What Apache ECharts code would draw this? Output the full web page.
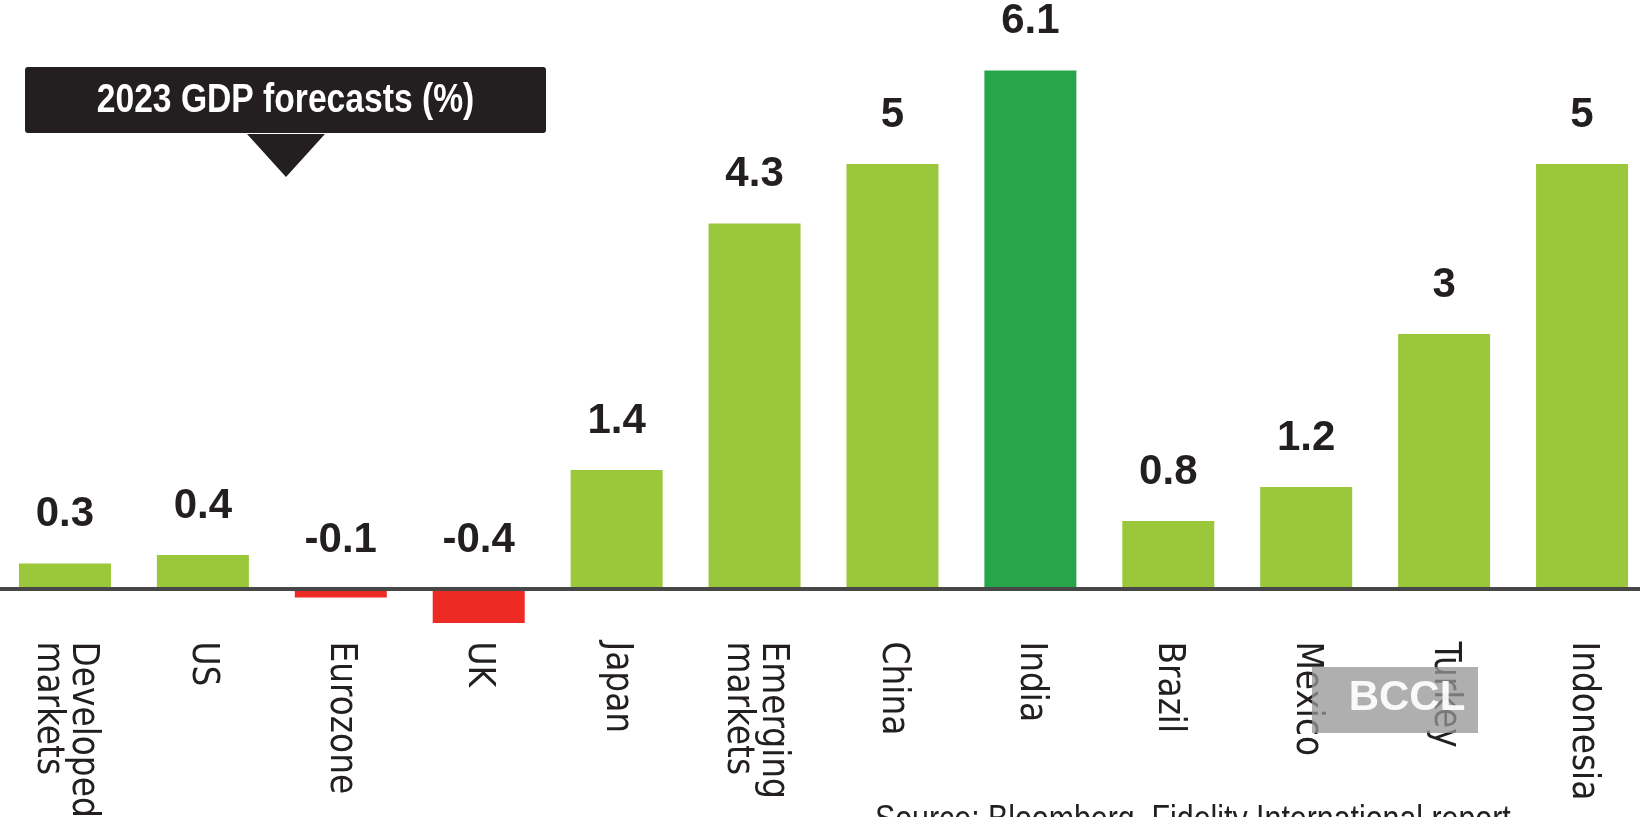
<!DOCTYPE html>
<html>
<head>
  <meta charset="utf-8">
  <title>2023 GDP forecasts</title>
  <script src="https://cdn.jsdelivr.net/npm/echarts/dist/echarts.min.js"></script>
  <style>
    html, body { margin: 0; padding: 0; background: #fff; }
    #main { width: 1640px; height: 817px; }
  </style>
</head>
<body>
<div id="main"></div>

<script>
  // 2023 GDP forecasts (%), Source: Bloomberg, Fidelity International report
  const categories = [
    'Developed\nmarkets', 'US', 'Eurozone', 'UK', 'Japan', 'Emerging\nmarkets',
    'China', 'India', 'Brazil', 'Mexico', 'Turkey', 'Indonesia'
  ];
  const forecasts = [0.3, 0.4, -0.1, -0.4, 1.4, 4.3, 5, 6.1, 0.8, 1.2, 3, 5];
  const highlighted = ['India'];

  const GREEN = '#9bc83b';
  const DARK_GREEN = '#26a54a';
  const RED = '#ee2a24';
  const INK = '#231f20';
  const SANS = '"Liberation Sans", Arial, sans-serif';
  const CONDENSED = '"DejaVu Sans Condensed", "Liberation Sans", sans-serif';

  const barData = forecasts.map(function (v, i) {
    let color = GREEN;
    if (v < 0) color = RED;
    else if (highlighted.indexOf(categories[i]) >= 0) color = DARK_GREEN;
    return { value: v, itemStyle: { color: color } };
  });

  var myChart = echarts.init(document.getElementById('main'));

  var option = {
    animation: false,
    grid: {
      left: -4,
      right: -11,
      top: 36.5,
      bottom: 185.5,
      outerBoundsMode: 'none'
    },
    xAxis: {
      type: 'category',
      data: categories,
      axisTick: { show: false },
      axisLine: {
        show: true,
        onZero: true,
        lineStyle: { color: '#474747', width: 4 }
      },
      axisLabel: {
        rotate: -90,
        margin: 10,
        interval: 0,
        color: INK,
        fontFamily: CONDENSED,
        fontSize: 36.5,
        lineHeight: 35
      },
      z: 3
    },
    yAxis: {
      type: 'value',
      min: -0.5,
      max: 6.5,
      show: false,
      splitLine: { show: false }
    },
    series: [
      {
        type: 'bar',
        data: barData,
        barWidth: 92,
        label: {
          show: true,
          position: 'top',
          distance: 28,
          color: INK,
          fontFamily: SANS,
          fontWeight: 'bold',
          fontSize: 42
        }
      }
    ],
    graphic: [
      {
        type: 'rect',
        shape: { x: 25, y: 67, width: 521, height: 66, r: 3 },
        style: { fill: INK },
        z: 10
      },
      {
        type: 'polygon',
        shape: { points: [[247, 134], [325, 134], [286, 177]] },
        style: { fill: INK },
        z: 10
      },
      {
        type: 'text',
        x: 285.5,
        y: 101,
        scaleX: 0.82,
        style: {
          text: '2023 GDP forecasts (%)',
          fill: '#fff',
          font: 'bold 41px ' + SANS,
          align: 'center',
          verticalAlign: 'middle'
        },
        z: 11
      },
      {
        type: 'text',
        x: 875,
        y: 802,
        scaleX: 0.82,
        style: {
          text: 'Source: Bloomberg, Fidelity International report',
          fill: INK,
          font: '37px ' + SANS,
          align: 'left',
          verticalAlign: 'top'
        },
        z: 10
      },
      {
        type: 'rect',
        shape: { x: 1312, y: 667, width: 166, height: 66 },
        style: { fill: 'rgba(150,150,150,0.76)' },
        z: 20
      },
      {
        type: 'text',
        x: 1407,
        y: 698,
        style: {
          text: 'BCCL',
          fill: 'rgba(255,255,255,0.92)',
          font: 'bold 42px ' + SANS,
          align: 'center',
          verticalAlign: 'middle'
        },
        z: 21
      }
    ]
  };

  myChart.setOption(option);
</script>
</body>
</html>
